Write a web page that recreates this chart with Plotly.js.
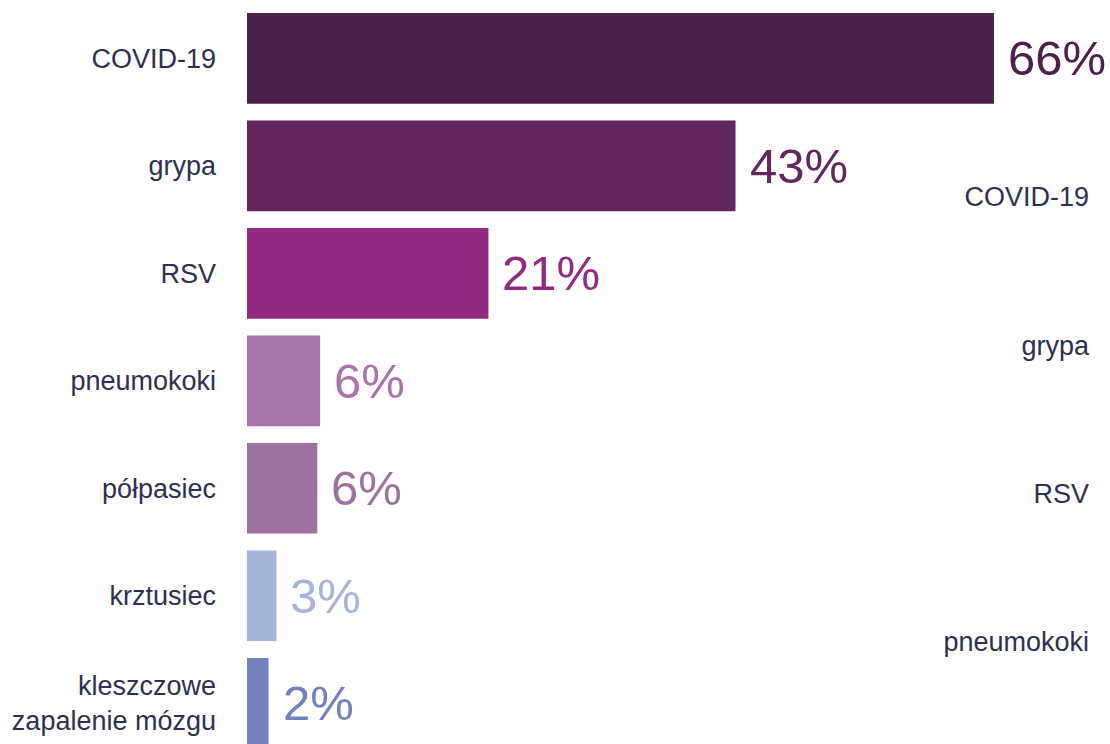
<!DOCTYPE html>
<html>
<head>
<meta charset="utf-8">
<script src="https://cdn.plot.ly/plotly-3.0.1.min.js"></script>
<style>html,body{margin:0;padding:0;background:#fff;}#chart{width:1110px;height:744px;}</style>
</head>
<body>
<div id="chart"></div>
<script>
// Data
const categories = ["COVID-19", "grypa", "RSV", "pneumokoki", "półpasiec", "krztusiec", "kleszczowe<br>zapalenie mózgu"];
const values = [65.9, 43.1, 21.3, 6.45, 6.2, 2.6, 1.9];
const barColors = ["#4b2149", "#63275f", "#932a82", "#a973ad", "#9c739e", "#a6b3da", "#7481be"];
const rightCategories = ["COVID-19", "grypa", "RSV", "pneumokoki"];

const fontFamily = "'Liberation Sans', Arial, sans-serif";
const labelFont = {family: fontFamily, size: 27, color: "#2e3052"};

const bars = {
  type: "bar",
  orientation: "h",
  x: values,
  y: categories,
  marker: {color: barColors},
  hoverinfo: "skip",
  showlegend: false
};

const rightAxisTrace = {
  type: "scatter",
  mode: "markers",
  x: rightCategories.map(() => 0),
  y: rightCategories,
  yaxis: "y2",
  marker: {opacity: 0},
  hoverinfo: "skip",
  showlegend: false
};

const annotations = values.map((v, i) => ({
  x: v,
  y: categories[i],
  xref: "x",
  yref: "y",
  text: Math.round(v) + "%",
  showarrow: false,
  xanchor: "left",
  yanchor: "middle",
  xshift: 12,
  font: {family: fontFamily, size: 49, color: barColors[i]}
}));

const layout = {
  width: 1110,
  height: 744,
  margin: {l: 247, r: 18, t: 0, b: 0, pad: 0},
  paper_bgcolor: "#ffffff",
  plot_bgcolor: "#ffffff",
  bargap: 0.156,
  xaxis: {
    range: [0, 74.55],
    visible: false,
    fixedrange: true
  },
  yaxis: {
    type: "category",
    range: [6.379, -0.542],
    showgrid: false,
    zeroline: false,
    showline: false,
    ticks: "",
    ticklabelstandoff: 30,
    tickfont: labelFont,
    fixedrange: true
  },
  yaxis2: {
    type: "category",
    overlaying: "y",
    side: "right",
    range: [3.689, -1.328],
    showgrid: false,
    zeroline: false,
    showline: false,
    ticks: "",
    ticklabelposition: "inside",
    tickfont: labelFont,
    fixedrange: true
  },
  annotations: annotations,
  font: labelFont
};

Plotly.newPlot("chart", [bars, rightAxisTrace], layout, {displayModeBar: false, staticPlot: true});
</script>
</body>
</html>
